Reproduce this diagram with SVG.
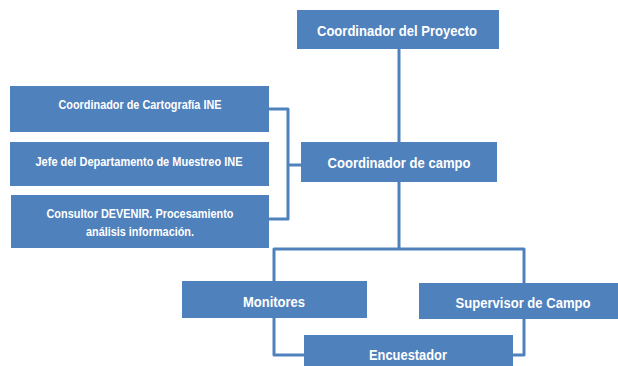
<svg xmlns="http://www.w3.org/2000/svg" width="618" height="366" viewBox="0 0 618 366">
<style>
.box{fill:#4F81BD}
.t{fill:#fff;font-family:"Liberation Sans Narrow","Liberation Sans",Arial,sans-serif;font-weight:bold;text-anchor:middle}
.big{font-size:15.5px}
.sm{font-size:12.8px}
.md{font-size:14.5px}
.ln{fill:none;stroke:#4F81BD;stroke-width:3;stroke-linejoin:round}
</style>
<rect width="618" height="366" fill="#fff"/>
<g id="connectors">
<path class="ln" d="M399 49V142"/>
<path class="ln" d="M269 109H288V219H269M288 165H301"/>
<path class="ln" d="M399 182V249"/>
<path class="ln" d="M274 249H524V355H274Z"/>
</g>
<g id="n-proyecto"><rect class="box" x="297" y="10" width="202" height="39"/><text class="t big" x="397" y="36" textLength="160" lengthAdjust="spacingAndGlyphs">Coordinador del Proyecto</text></g>
<g id="n-campo"><rect class="box" x="301" y="142" width="196" height="40"/><text class="t big" x="399" y="168" textLength="143" lengthAdjust="spacingAndGlyphs">Coordinador de campo</text></g>
<g id="n-cartografia"><rect class="box" x="10" y="86" width="259" height="46"/><text class="t sm" x="140" y="109" textLength="163" lengthAdjust="spacingAndGlyphs">Coordinador de Cartografía INE</text></g>
<g id="n-muestreo"><rect class="box" x="10" y="142" width="259" height="44"/><text class="t sm" x="139" y="166" textLength="207" lengthAdjust="spacingAndGlyphs">Jefe del Departamento de Muestreo INE</text></g>
<g id="n-consultor"><rect class="box" x="11" y="195" width="258" height="53"/><text class="t sm" x="140" y="218" textLength="187" lengthAdjust="spacingAndGlyphs">Consultor DEVENIR. Procesamiento</text><text class="t sm" x="140" y="236" textLength="108" lengthAdjust="spacingAndGlyphs">análisis información.</text></g>
<g id="n-monitores"><rect class="box" x="182" y="281" width="185" height="37"/><text class="t md" x="274" y="307" textLength="62" lengthAdjust="spacingAndGlyphs">Monitores</text></g>
<g id="n-supervisor"><rect class="box" x="419" y="283" width="199" height="36"/><text class="t md" x="523" y="308" textLength="135" lengthAdjust="spacingAndGlyphs">Supervisor de Campo</text></g>
<g id="n-encuestador"><rect class="box" x="304" y="335" width="209" height="31"/><text class="t md" x="408" y="360" textLength="78" lengthAdjust="spacingAndGlyphs">Encuestador</text></g>
</svg>
